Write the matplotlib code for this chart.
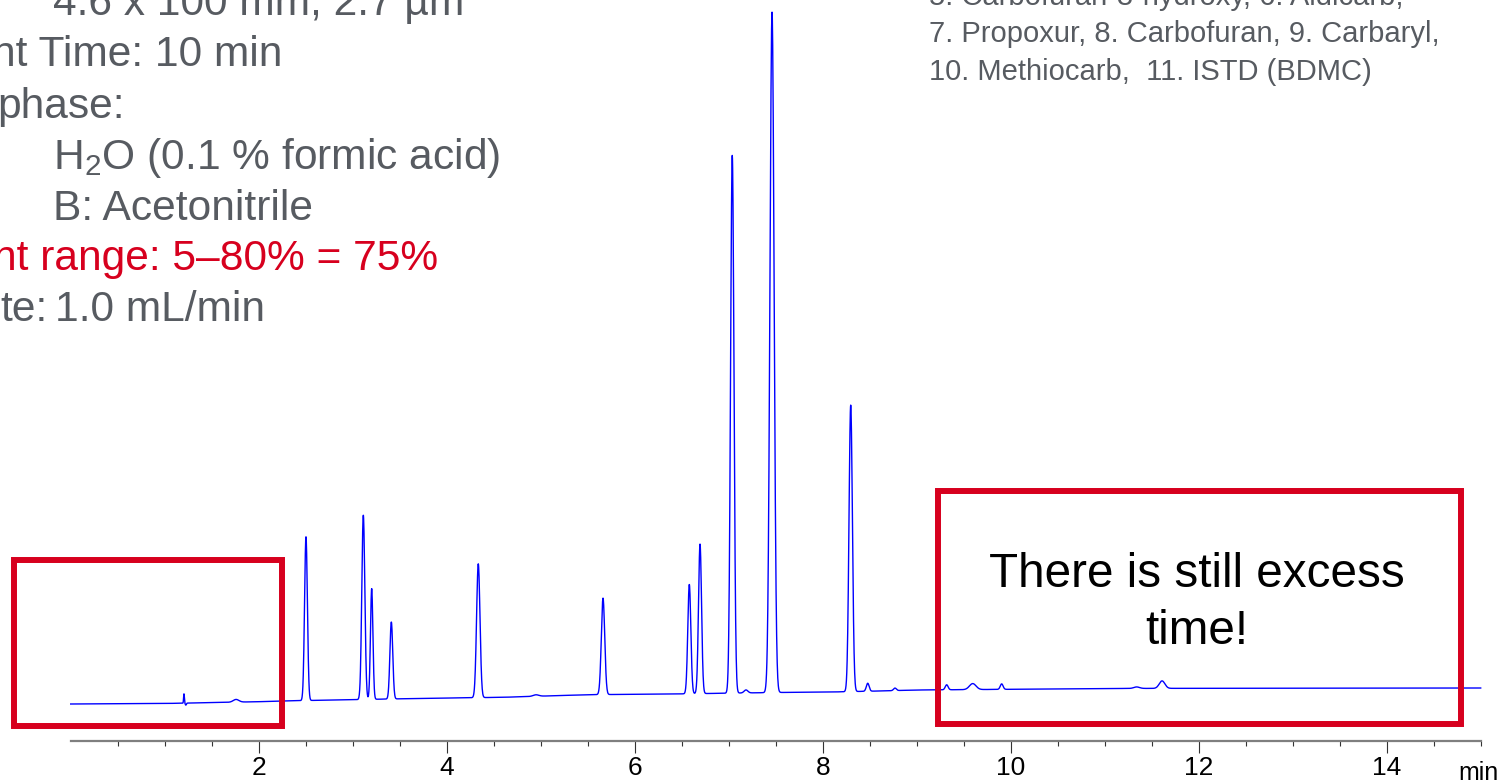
import numpy as np
import matplotlib
matplotlib.use("Agg")
import matplotlib.pyplot as plt
from matplotlib.patches import Rectangle

plt.rcParams['font.family'] = ['Liberation Sans', 'DejaVu Sans']
plt.rcParams['mathtext.fontset'] = 'custom'
plt.rcParams['mathtext.rm'] = 'Liberation Sans'

# ---------------- data ----------------
# baseline drift (time in min, signal in arbitrary units)
base_times = [0.0, 1.0, 2.0, 2.4, 3.8, 4.6, 5.5, 6.4, 7.5, 8.1, 8.6, 9.0, 10.0, 11.0, 12.0, 15.0]
base_values = [0.0, 0.5, 2.3, 3.3, 5.7, 6.7, 9.3, 10.0, 11.5, 12.0, 13.0, 14.0, 14.7, 15.5, 15.7, 16.0]

# peaks: retention time (min), height above baseline, width (sigma, min)
peak_times = [1.205, 1.225, 1.759, 2.503, 3.113, 3.202, 3.411, 4.336, 4.95, 5.663,
              6.581, 6.695, 7.038, 7.184, 7.461, 8.298, 8.479, 8.769, 9.319, 9.596,
              9.904, 11.34, 11.61]
peak_heights = [9.5, -2.0, 2.7, 164.0, 184.5, 110.7, 77.0, 133.8, 1.5, 96.5,
                109.4, 149.7, 537.7, 3.0, 681.0, 286.5, 8.0, 2.5, 5.0, 6.0,
                5.5, 1.5, 7.5]
peak_sigmas = [0.004, 0.006, 0.03, 0.015, 0.016, 0.013, 0.015, 0.018, 0.03, 0.018,
               0.016, 0.016, 0.018, 0.02, 0.022, 0.018, 0.015, 0.015, 0.015, 0.035,
               0.015, 0.03, 0.03]

tick_major = [2, 4, 6, 8, 10, 12, 14]
x_unit = "min"

left_lines = [
    ("4.6 x 100 mm, 2.7 µm", 53, 15, "grey"),
    ("nt Time: 10 min", -8, 66, "grey"),
    ("phase:", -3, 118, "grey"),
    (r"H$_{\mathrm{2}}$O (0.1 % formic acid)", 53, 169, "grey"),
    ("B: Acetonitrile", 53, 220, "grey"),
    ("nt range: 5–80% = 75%", -7, 270, "red"),
    ("te:", 0, 321, "grey"),
    ("1.0 mL/min", 55, 321, "grey"),
]
right_lines = [
    "5. Carbofuran-3-hydroxy, 6. Aldicarb,",
    "7. Propoxur, 8. Carbofuran, 9. Carbaryl,",
    "10. Methiocarb,  11. ISTD (BDMC)",
]
note_text = "There is still excess\ntime!"

# ---------------- figure ----------------
W, H = 1505, 784
fig = plt.figure(figsize=(W / 100, H / 100), dpi=100)

def fx(px):
    return px / W

def fy(py):
    return 1 - py / H

ax_left, ax_right, ax_bottom = 70.7, 1480.7, 741
ax = fig.add_axes([fx(ax_left), fy(ax_bottom), fx(ax_right - ax_left), ax_bottom / H])

t = np.arange(0, 15.0001, 0.002)
sig = np.interp(t, base_times, base_values)
for rt, h, s in zip(peak_times, peak_heights, peak_sigmas):
    sig = sig + h * np.exp(-0.5 * ((t - rt) / s) ** 2)

ax.plot(t, sig, color='#0000ff', lw=1.0, clip_on=False)
ax.set_xlim(0, 15)
ax.set_ylim(-37, 704)

for s in ['left', 'top', 'right']:
    ax.spines[s].set_visible(False)
ax.spines['bottom'].set_color('#7f7f7f')
ax.spines['bottom'].set_linewidth(1.6)
ax.set_yticks([])
ax.set_xticks(tick_major)
ax.set_xticklabels([str(v) for v in tick_major])
ax.set_xticks(np.arange(0.5, 15.01, 0.5), minor=True)
ax.tick_params(axis='x', which='major', length=8.6, width=0.8, color='#333333',
               labelsize=19, pad=2.5, labelcolor='black')
ax.tick_params(axis='x', which='minor', length=3.8, width=0.8, color='#333333')
fig.text(fx(1478), fy(780), x_unit, fontsize=18, ha='center', va='baseline', color='black')

grey = '#575b61'
red = '#d7001e'
for txt, x, y, c in left_lines:
    fig.text(fx(x), fy(y), txt, fontsize=30.6, ha='left', va='baseline',
             color=grey if c == 'grey' else red)

for i, txt in enumerate(right_lines):
    fig.text(fx(929), fy(5 + 37.5 * i), txt, fontsize=21, ha='left', va='baseline', color=grey)

# red boxes
box_lw = 4.3
r1 = Rectangle((fx(14), fy(726)), fx(282 - 14), (726 - 560) / H, transform=fig.transFigure,
               fill=False, edgecolor=red, lw=box_lw)
r2 = Rectangle((fx(938), fy(723.7)), fx(1460.7 - 938), (723.7 - 490.5) / H, transform=fig.transFigure,
               fill=False, edgecolor=red, lw=box_lw)
fig.add_artist(r1)
fig.add_artist(r2)
fig.text(fx(1197), fy(603), note_text, fontsize=34.3, ha='center', va='center',
         color='black', linespacing=1.32)

fig.savefig('out.png', dpi=100)
